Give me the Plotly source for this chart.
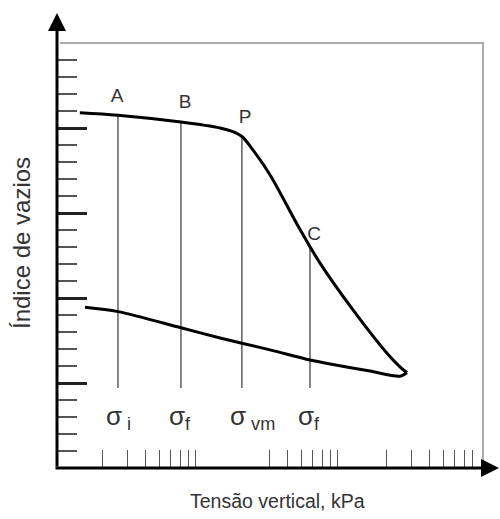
import numpy as np
import plotly.graph_objects as go

# ---- data (schematic compression curve) ----
load_x = [1.38, 2.56, 7.11, 13.4, 16.3, 19.1, 22.9, 30.1, 48.5, 67.8, 115.7, 200.9, 247.8, 277.8]
load_y = [4.18, 4.15, 4.07, 4.00, 3.96, 3.90, 3.74, 3.45, 2.82, 2.41, 1.86, 1.35, 1.19, 1.12]
unload_x = [277.8, 247.8, 152.5, 89.3, 57.6, 30.1, 13.4, 7.11, 2.56, 1.50]
unload_y = [1.12, 1.08, 1.14, 1.21, 1.27, 1.39, 1.53, 1.65, 1.84, 1.89]

stress_x = [2.56, 7.11, 19.1, 57.6]
stress_top = [4.15, 4.07, 3.90, 2.59]
stress_bottom = 0.94
stress_labels = ["σ<sub> i</sub>", "σ<sub>f</sub>", "σ<sub> vm</sub>", "σ<sub>f</sub>"]
stress_label_y = 0.60

point_labels = ["A", "B", "P", "C"]
point_x = [2.52, 7.59, 20.1, 61.5]
point_y = [4.365, 4.29, 4.12, 2.74]

box_x = [1.0, 953, 953]
box_y = [5.0, 5.0, 0.0]

x_ticks = [2, 3, 4, 5, 6, 7, 8, 9, 30, 40, 50, 60, 70, 80, 90, 200, 300, 400, 500, 600, 700, 800]
y_major = [1, 2, 3, 4]
y_minor = [round(0.2 * k, 1) for k in range(1, 25)]

x_title = "Tensão vertical, kPa"
y_title = "Índice de vazios"

FONT = "Liberation Sans, Arial, sans-serif"
TXT = "#333333"

fig = go.Figure()

# gray frame
fig.add_trace(go.Scatter(x=box_x, y=box_y, mode="lines",
                         line=dict(color="#aaaaaa", width=2), hoverinfo="skip"))

# vertical stress lines
for xv, yt in zip(stress_x, stress_top):
    fig.add_trace(go.Scatter(x=[xv, xv], y=[yt, stress_bottom], mode="lines",
                             line=dict(color="#444444", width=1.3), hoverinfo="skip"))

# curves
fig.add_trace(go.Scatter(x=load_x, y=load_y, mode="lines",
                         line=dict(color="black", width=3, shape="spline", smoothing=0.9)))
fig.add_trace(go.Scatter(x=unload_x, y=unload_y, mode="lines",
                         line=dict(color="black", width=3, shape="spline", smoothing=0.8)))

# point labels
fig.add_trace(go.Scatter(x=point_x, y=point_y, mode="text", text=point_labels,
                         textposition="middle center",
                         textfont=dict(family=FONT, size=19, color=TXT)))

fig.update_layout(
    width=500, height=519,
    margin=dict(l=57, r=5, t=20, b=51),
    paper_bgcolor="white", plot_bgcolor="white",
    showlegend=False,
    xaxis=dict(type="log", range=[-0.0211, 3.0634], showgrid=False, zeroline=False,
               showline=False, showticklabels=False,
               tickmode="array", tickvals=x_ticks, ticks="inside", ticklen=18,
               tickwidth=1.3, tickcolor="#555555"),
    yaxis=dict(range=[0, 5.2706], showgrid=False, zeroline=False, showline=False,
               showticklabels=False,
               tickmode="array", tickvals=y_major, ticks="inside", ticklen=30,
               tickwidth=2.5, tickcolor="#222222",
               minor=dict(tickmode="array", tickvals=y_minor, ticks="inside",
                          ticklen=20, tickwidth=1.5, tickcolor="#555555")),
)

# stress labels (annotation x on log axis is log10 of the value)
for xv, lab in zip(stress_x, stress_labels):
    fig.add_annotation(x=float(np.log10(xv)), y=stress_label_y, xref="x", yref="y",
                       text=lab, showarrow=False, xanchor="left", xshift=-14,
                       font=dict(family=FONT, size=26, color=TXT))

# axes with arrows
fig.add_annotation(xref="paper", yref="paper", x=0.0, y=1 + 7 / 448, ax=0, ay=455,
                   showarrow=True, arrowhead=2, arrowsize=1.2, arrowwidth=3,
                   arrowcolor="black", text="")
fig.add_annotation(xref="paper", yref="paper", x=1 + 5 / 438, y=0.0, ax=-446, ay=0,
                   showarrow=True, arrowhead=2, arrowsize=1.2, arrowwidth=3,
                   arrowcolor="black", text="")

# axis titles
fig.add_annotation(xref="paper", yref="paper", x=(277 - 57) / 438, y=-33 / 448,
                   xanchor="center", yanchor="middle",
                   text=x_title, showarrow=False,
                   font=dict(family=FONT, size=19.5, color=TXT))
fig.add_annotation(xref="paper", yref="paper", x=-35 / 438, y=(468 - 243) / 448,
                   xanchor="center", yanchor="middle",
                   text=y_title, showarrow=False, textangle=-90,
                   font=dict(family=FONT, size=24, color=TXT))

fig.write_html("out.html")
